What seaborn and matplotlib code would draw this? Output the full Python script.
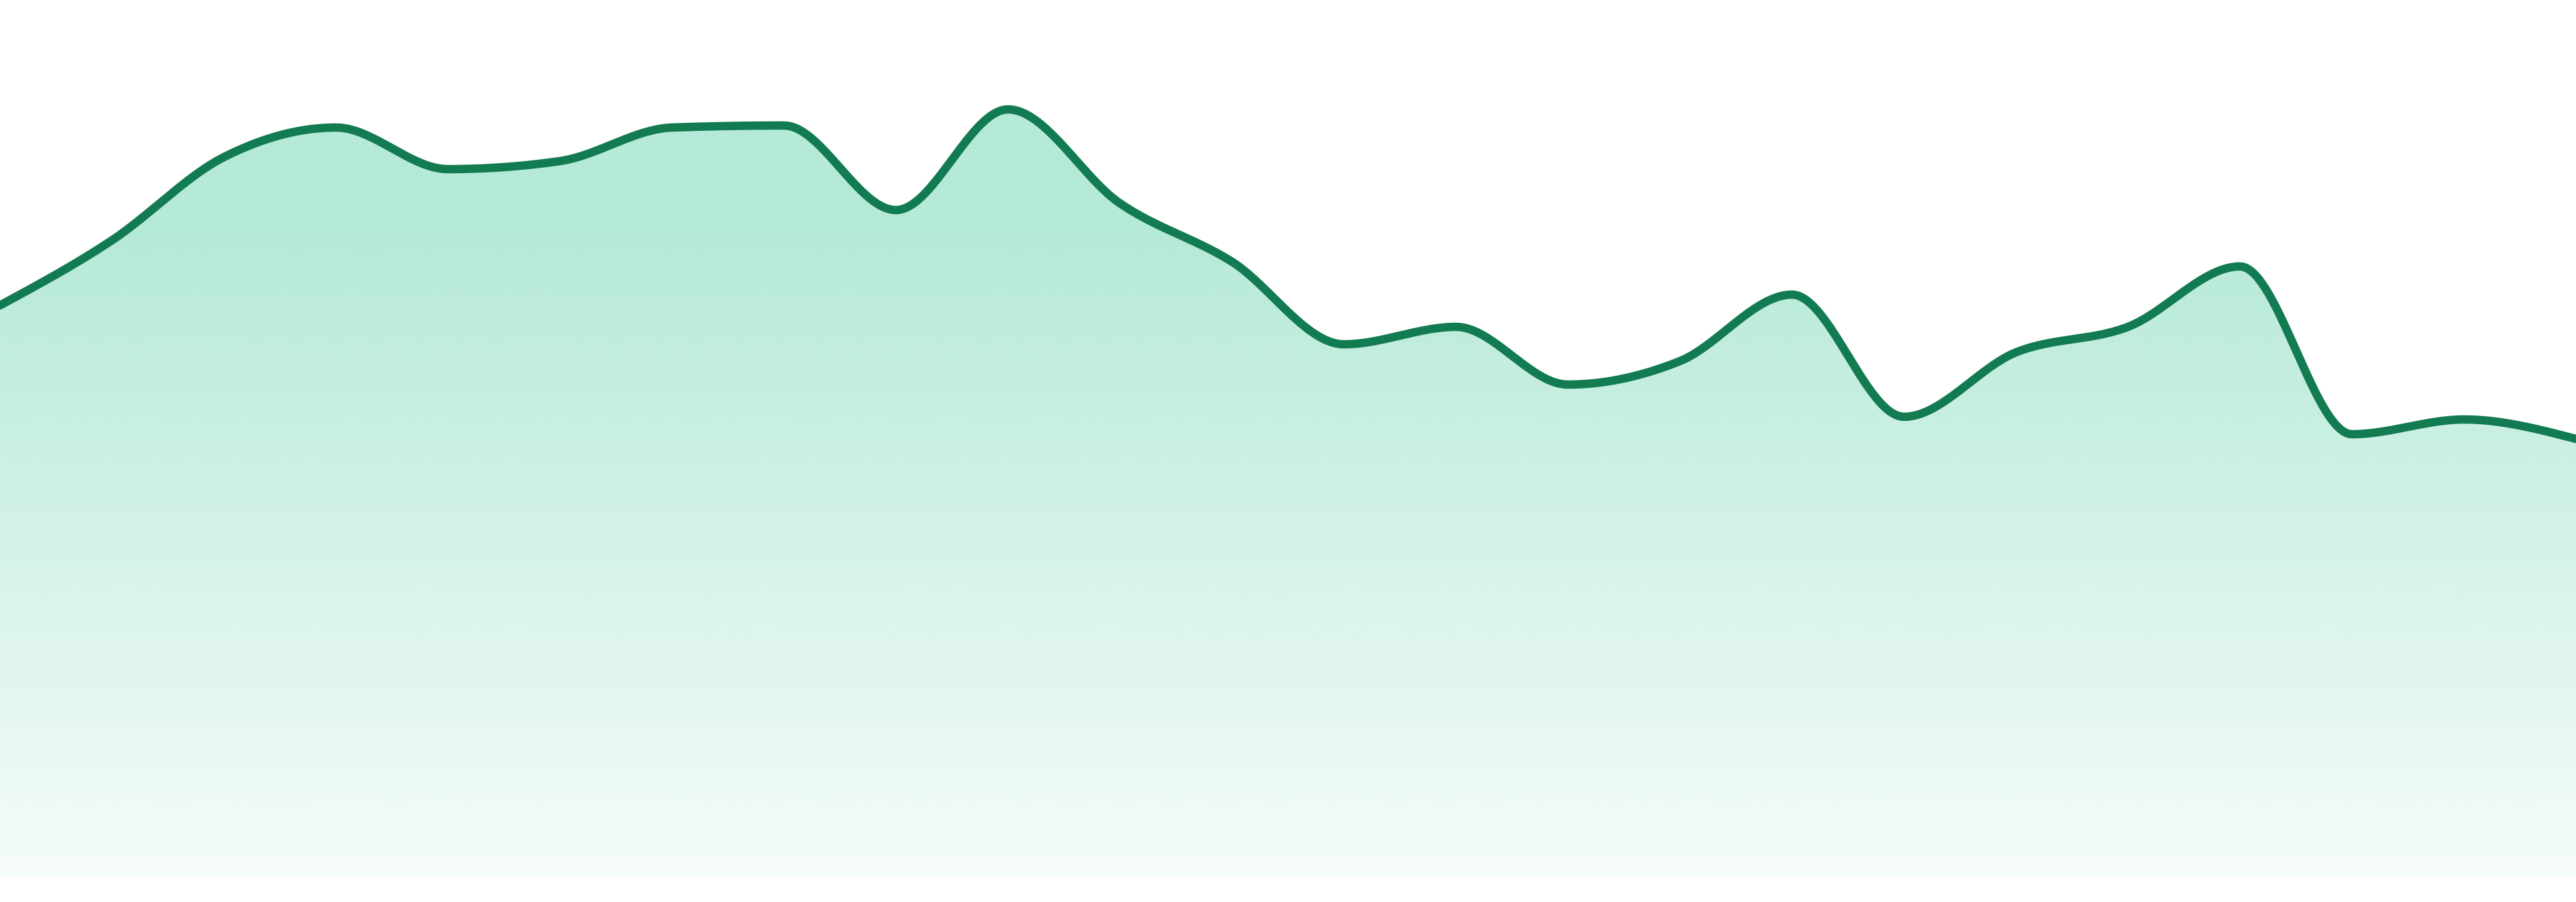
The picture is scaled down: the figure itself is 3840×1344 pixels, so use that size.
import numpy as np
import pandas as pd
import seaborn as sns
from matplotlib import pyplot as plt
from matplotlib.colors import to_rgb

# values (24 evenly spaced points)
periods = list(range(24))
values = [850, 947, 1071, 1115, 1053, 1065, 1115, 1118, 992, 1142, 1002, 915,
          792, 818, 732, 767, 866, 684, 780, 818, 908, 658, 680, 651]

line_color = "#127b51"
fill_color = "#10b981"


def monotone_x(xs, ys, n=40):
    # same maths as d3.curveMonotoneX
    xs = np.asarray(xs, float)
    ys = np.asarray(ys, float)
    h = np.diff(xs)
    s = np.diff(ys) / h
    t = np.zeros(len(xs))
    for i in range(1, len(xs) - 1):
        p = (s[i - 1] * h[i] + s[i] * h[i - 1]) / (h[i - 1] + h[i])
        t[i] = (np.sign(s[i - 1]) + np.sign(s[i])) * min(abs(s[i - 1]), abs(s[i]), 0.5 * abs(p))
    t[0] = (3 * s[0] - t[1]) / 2
    t[-1] = (3 * s[-1] - t[-2]) / 2
    out_x, out_y = [], []
    for i in range(len(xs) - 1):
        u = np.linspace(0, 1, n, endpoint=False)
        dx = h[i]
        p0, p1 = ys[i], ys[i + 1]
        c0 = p0 + dx * t[i] / 3
        c1 = p1 - dx * t[i + 1] / 3
        out_x.append(xs[i] + dx * u)
        out_y.append((1 - u) ** 3 * p0 + 3 * (1 - u) ** 2 * u * c0 + 3 * (1 - u) * u ** 2 * c1 + u ** 3 * p1)
    out_x.append([xs[-1]])
    out_y.append([ys[-1]])
    return np.concatenate(out_x), np.concatenate(out_y)


cx, cy = monotone_x(periods, values)
curve = pd.DataFrame({"period": cx, "value": cy})

sns.set_style("white")
fig = plt.figure(figsize=(38.4, 13.44), dpi=100)
ax = fig.add_axes([0, 39 / 1344, 1, 1305 / 1344])

ymax = 1305
# gradient under the curve
levels = np.linspace(0, ymax, 600)
alpha = np.clip(0.04 + (0.31 - 0.04) * levels / 965, 0, 0.31)
grad = np.zeros((len(levels), 1, 4))
grad[:, 0, :3] = to_rgb(fill_color)
grad[:, 0, 3] = alpha
poly = ax.fill_between(curve["period"], curve["value"], 0, facecolor="none", edgecolor="none")
im = ax.imshow(grad, extent=[0, 23, 0, ymax], origin="lower", aspect="auto", interpolation="bilinear")
im.set_clip_path(poly.get_paths()[0], transform=ax.transData)

sns.lineplot(data=curve, x="period", y="value", color=line_color, linewidth=9, ax=ax,
             sort=False, solid_capstyle="round", solid_joinstyle="round")

ax.set_xlim(0, 23)
ax.set_ylim(0, ymax)
ax.axis("off")

fig.savefig("out.png", dpi=100)
